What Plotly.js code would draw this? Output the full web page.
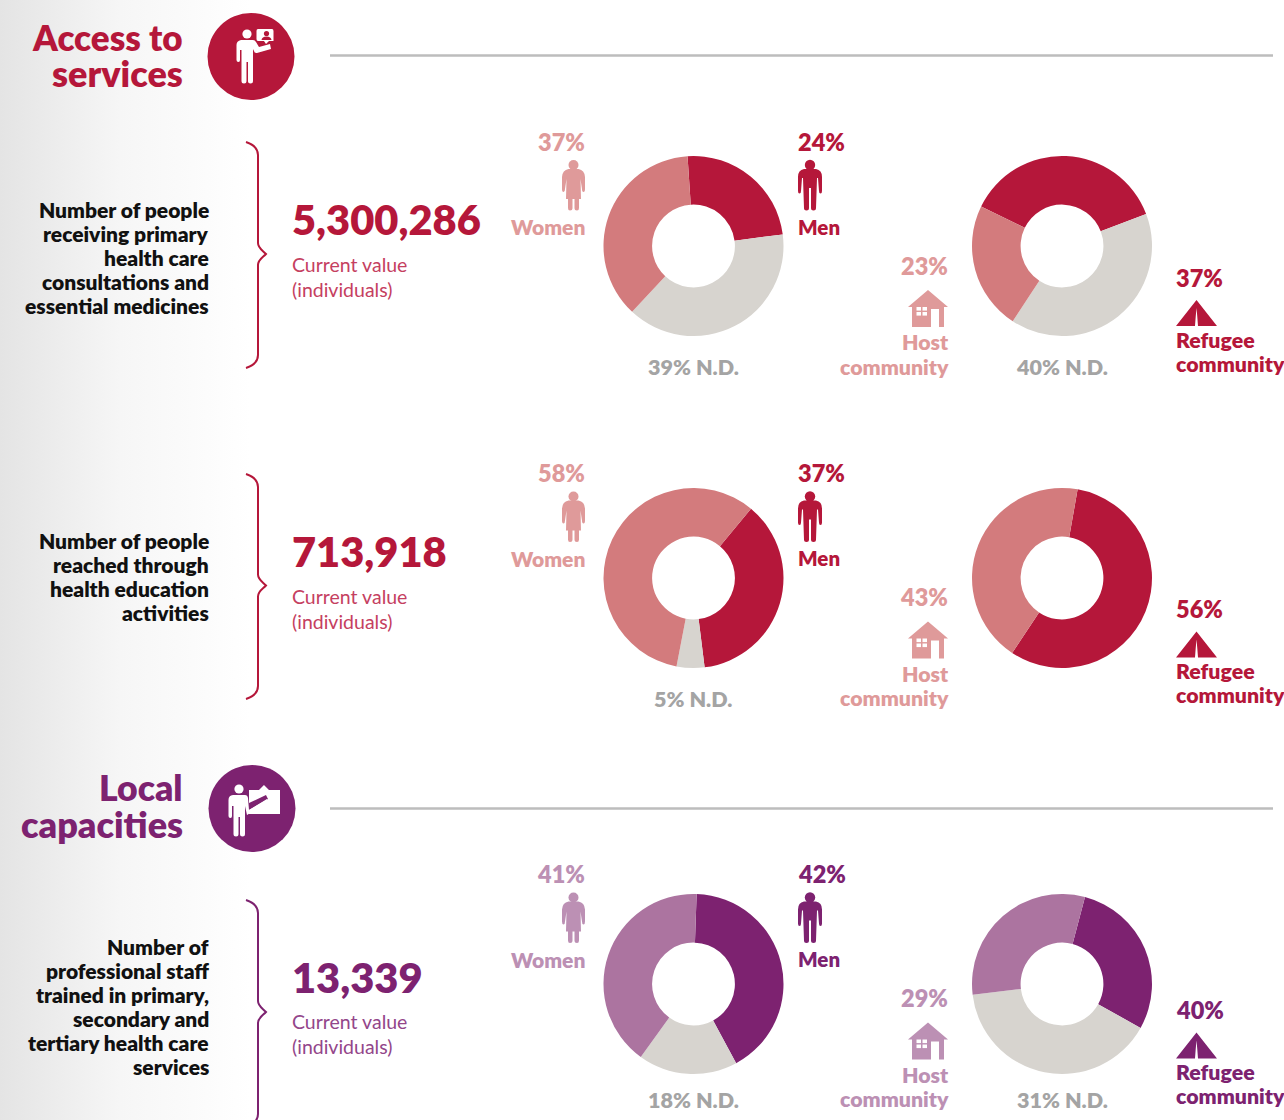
<!DOCTYPE html>
<html><head><meta charset="utf-8">
<script src="https://cdn.plot.ly/plotly-3.0.1.min.js"></script>
<style>html,body{margin:0;padding:0;background:linear-gradient(to right,#e4e4e4 0,#f6f6f6 120px,#ffffff 250px);}#c{width:1284px;height:1120px;}</style>
</head><body><div id="c"></div>
<script>
const W=1284,H=1120;
const FONT='Lato, "Open Sans", sans-serif';
// Slices as read from the drawn donuts
const sliceNames1=['Men','N.D.','Women'];
const sliceNames2=['Refugee community','N.D.','Host community'];
const row1Gender=[24,39,37];
const row1Community=[37,40,23];
const row2Gender=[37,5,58];
const row2Community=[56,43];
const row3Gender=[42,18,41];
const row3Community=[29,40,31];
// Printed labels
const totals=['5,300,286','713,918','13,339'];
const menPct=['24%','37%','42%'];
const womenPct=['37%','58%','41%'];
const genderNd=['39% N.D.','5% N.D.','18% N.D.'];
const hostPct=['23%','43%','29%'];
const refugeePct=['37%','56%','40%'];
const communityNd=['40% N.D.','','31% N.D.'];
const descriptions=[
 ['Number of people','receiving primary','health care','consultations and','essential medicines'],
 ['Number of people','reached through','health education','activities'],
 ['Number of','professional staff','trained in primary,','secondary and','tertiary health care','services']];
// Palette
const RED='#B5173A',RED_S='#D37B7D',RED_L='#DF9A9A';
const PUR='#7D2270',PUR_S='#AC74A0',PUR_L='#BC90B4';
const GREY='#D7D4CF',ND='#A4A4A4';
// Layout anchors
const cxL=693.5,cxR=1062,cy=[246,578,984],R=90;
const off=[0,331.5,732.5];
const descY=[211,542,948];
const totY=[220,552,978], curY=[266,598,1023];
const rot=[[-3.8,-64],[39.7,10],[2,14.8]];
const sets=[[row1Gender,row1Community],[row2Gender,row2Community],[row3Gender,row3Community]];
const data=[],ann=[],shapes=[];
const fx=x=>x/W, fy=y=>1-y/H;
function pie(cx,c,vals,labels,colors,r){
 data.push({type:'pie',values:vals,labels:labels,sort:false,direction:'clockwise',rotation:r,hole:0.46,
  textinfo:'none',hoverinfo:'skip',showlegend:false,marker:{colors:colors,line:{width:0}},
  domain:{x:[fx(cx-R),fx(cx+R)],y:[fy(c+R),fy(c-R)]}});
}
function txt(t,x,y,anchor,size,color,weight){
 ann.push({text:t,xref:'paper',yref:'paper',x:fx(x),y:fy(y-1.5),xanchor:anchor,yanchor:'middle',showarrow:false,
  font:{family:FONT,size:size,color:color,weight:weight},borderpad:0,borderwidth:0});
}
function P(d,ox=0,oy=0,s=1){ // px path to paper path
 return d.replace(/(-?[\d.]+) (-?[\d.]+)/g,(m,a,b)=>fx(ox+s*a).toFixed(6)+' '+fy(oy+s*b).toFixed(6));
}
function path(d,fill,ox,oy,line){
 shapes.push({type:'path',xref:'paper',yref:'paper',path:P(d,ox,oy),fillcolor:fill||'rgba(0,0,0,0)',
  line:line?{color:line.c,width:line.w}:{width:0},layer:'above'});
}
function circ(x,y,r,fill){
 shapes.push({type:'circle',xref:'paper',yref:'paper',x0:fx(x-r),x1:fx(x+r),y0:fy(y+r),y1:fy(y-r),fillcolor:fill,line:{width:0},layer:'above'});
}
const MAN='M-6 12 Q-12 13 -12 20 L-12 34 Q-12 36.5 -10.5 36.5 Q-9 36.5 -9 34 L-8 21 L-7 21 L-6 51 Q-6 53.5 -3.5 53.5 Q-1 53.5 -1 51 L-1 31 L1 31 L1 51 Q1 53.5 3.5 53.5 Q6 53.5 6 51 L7 21 L8 21 L9 34 Q9 36.5 10.5 36.5 Q12 36.5 12 34 L12 20 Q12 13 6 12 Z';
const WOMAN='M-5 12 Q-11 13 -11.5 20 L-11.5 32 Q-11.5 35 -10 35 Q-8.5 35 -8.5 32 L-7 22 L-7.5 42 L-5.5 42 L-5.5 51 Q-5.5 53.5 -3.5 53.5 Q-1 53.5 -1 51 L-1 42 L1 42 L1 51 Q1 53.5 3.5 53.5 Q5.5 53.5 5.5 51 L5.5 42 L7.5 42 L7 22 L8.5 32 Q8.5 35 10 35 Q11.5 35 11.5 32 L11.5 20 Q11 13 5 12 Z';
const HOUSE='M20 0 L40 17 L36 17 L36 37 L31 37 L31 19 L23 19 L23 37 L4 37 L4 17 L0 17 Z';
const TENT='M20.5 0 L41 26 L22 26 Q21.3 16 20.5 8 Q19.7 16 19 26 L0 26 Z';
function brace(top,mid,bot,color){
 path(`M246 ${top} C252 ${top+2} 258 ${top+5} 258 ${top+13} L258 ${mid-11} C258 ${mid-6} 262 ${mid-4} 266 ${mid} C262 ${mid+4} 258 ${mid+6} 258 ${mid+11} L258 ${bot-13} C258 ${bot-5} 252 ${bot-2} 246 ${bot}`,null,0,0,{c:color,w:2});
}
for(let i=0;i<3;i++){
 const dark=i<2?RED:PUR, sl=i<2?RED_S:PUR_S, lab=i<2?RED_L:PUR_L, o=off[i];
 pie(cxL,cy[i],sets[i][0],sliceNames1,[dark,GREY,sl],rot[i][0]);
 if(sets[i][1].length===2) pie(cxR,cy[i],sets[i][1],['Refugee community','Host community'],[dark,sl],rot[i][1]);
 else pie(cxR,cy[i],sets[i][1],sliceNames2,[dark,GREY,sl],rot[i][1]);
 descriptions[i].forEach((t,k)=>txt(t,209,descY[i]+24*k,'right',21,'#111111',800));
 txt(totals[i],292,totY[i],'left',41.6,dark,800);
 txt('Current value',292,curY[i],'left',19.5,i<2?'#C5405F':'#93468A',400);
 txt('(individuals)',292,curY[i]+24.5,'left',19.5,i<2?'#C5405F':'#93468A',400);
 txt(womenPct[i],585,143+o,'right',23.5,lab,800);
 txt(menPct[i],798,143+o,'left',23.5,dark,800);
 txt('Women',585,228+o,'right',21,lab,800);
 txt('Men',798,228+o,'left',20.5,dark,800);
 if(genderNd[i]) txt(genderNd[i],693,368.5+o,'center',21.5,ND,800);
 if(communityNd[i]) txt(communityNd[i],1062,368.5+o,'center',21.5,ND,800);
 txt(hostPct[i],948,267+o,'right',23.5,lab,800);
 txt('Host',948.5,344+o,'right',21.3,lab,800);
 txt('community',948.5,368+o,'right',21.3,lab,800);
 txt(refugeePct[i],1176,279+o,'left',23.5,dark,800);
 txt('Refugee',1176,341+o,'left',21.3,dark,800);
 txt('community',1176,365+o,'left',21.3,dark,800);
 // pictograms
 circ(573.5,165+o,5,lab); path(WOMAN,lab,573.5,157+o);
 circ(810,165+o,5.2,dark); path(MAN,dark,810,157+o);
 path(HOUSE,lab,908,290+o);
 [[0,0],[6,0],[0,5],[6,5]].forEach(w=>path('M0 0 L4.5 0 L4.5 3.6 L0 3.6 Z','#ffffff',916.5+w[0],307+o+w[1]));
 path(TENT,dark,1176,300+o);
}
txt('Access to',183,38,'right',35,RED,800);
txt('services',183,74,'right',36,RED,800);
txt('Local',183,789,'right',35.5,PUR,800);
txt('capacities',183,825,'right',36,PUR,800);
shapes.push({type:'line',xref:'paper',yref:'paper',x0:fx(330),x1:fx(1273),y0:fy(55.5),y1:fy(55.5),line:{color:'#BDBDBD',width:2.5}});
shapes.push({type:'line',xref:'paper',yref:'paper',x0:fx(330),x1:fx(1273),y0:fy(808.5),y1:fy(808.5),line:{color:'#BDBDBD',width:2.5}});
brace(142,254,368,RED);brace(474,585.5,699,RED);brace(900,1012,1127,PUR);
// Section badges
circ(251,56.5,43.5,RED);
circ(247,34,4.6,'#fff');
path('M241 40 L253 40 Q255 40 256 42 L259 47 L270 44 L271 49 L257 53 Q254.5 53.5 254 51 L253 49 L253 81 Q253 83.5 250.5 83.5 Q248 83.5 248 81 L248 62 L246.5 62 L246.5 81 Q246.5 83.5 244 83.5 Q241.5 83.5 241.5 81 L241.5 50 L240 50 L240 60 Q240 62 238.5 62 Q236.5 62 236.5 60 L236.5 45 Q236.5 41 241 40 Z','#fff');
path('M258 29 L272 29 Q273.5 29 273.5 31 L273.5 41 L269 41 L266 44 L264 41 L258 41 Q256.5 41 256.5 39 L256.5 31 Q256.5 29 258 29 Z','#fff');
circ(266.5,33.5,2.6,RED);
path('M261.5 40 Q262 36.5 266.5 36.5 Q271 36.5 271.5 40 Z',RED);
circ(252,808.5,43.5,PUR);
circ(239,789,4.6,'#fff');
path('M233 795 L245 795 Q247.5 795 248 798 L249 810 L267 799 L268 802 L247 815 L245 806 L245 834 Q245 836.5 242.5 836.5 Q240 836.5 240 834 L240 817 L238.5 817 L238.5 834 Q238.5 836.5 236 836.5 Q233.5 836.5 233.5 834 L233.5 806 L232 806 L232 816 Q232 818 230.5 818 Q228.5 818 228.5 816 L228.5 800 Q228.5 795.5 233 795 Z','#fff');
path('M249 790 L259 790 L264 785 L269 790 L280 790 L280 814 L249 814 L249 810 L268 799 L266 795 L249 803 Z','#fff');
Plotly.newPlot('c',data,{width:W,height:H,margin:{l:0,r:0,t:0,b:0,pad:0},paper_bgcolor:'rgba(0,0,0,0)',plot_bgcolor:'rgba(0,0,0,0)',showlegend:false,annotations:ann,shapes:shapes},{staticPlot:true,displayModeBar:false});
</script></body></html>
